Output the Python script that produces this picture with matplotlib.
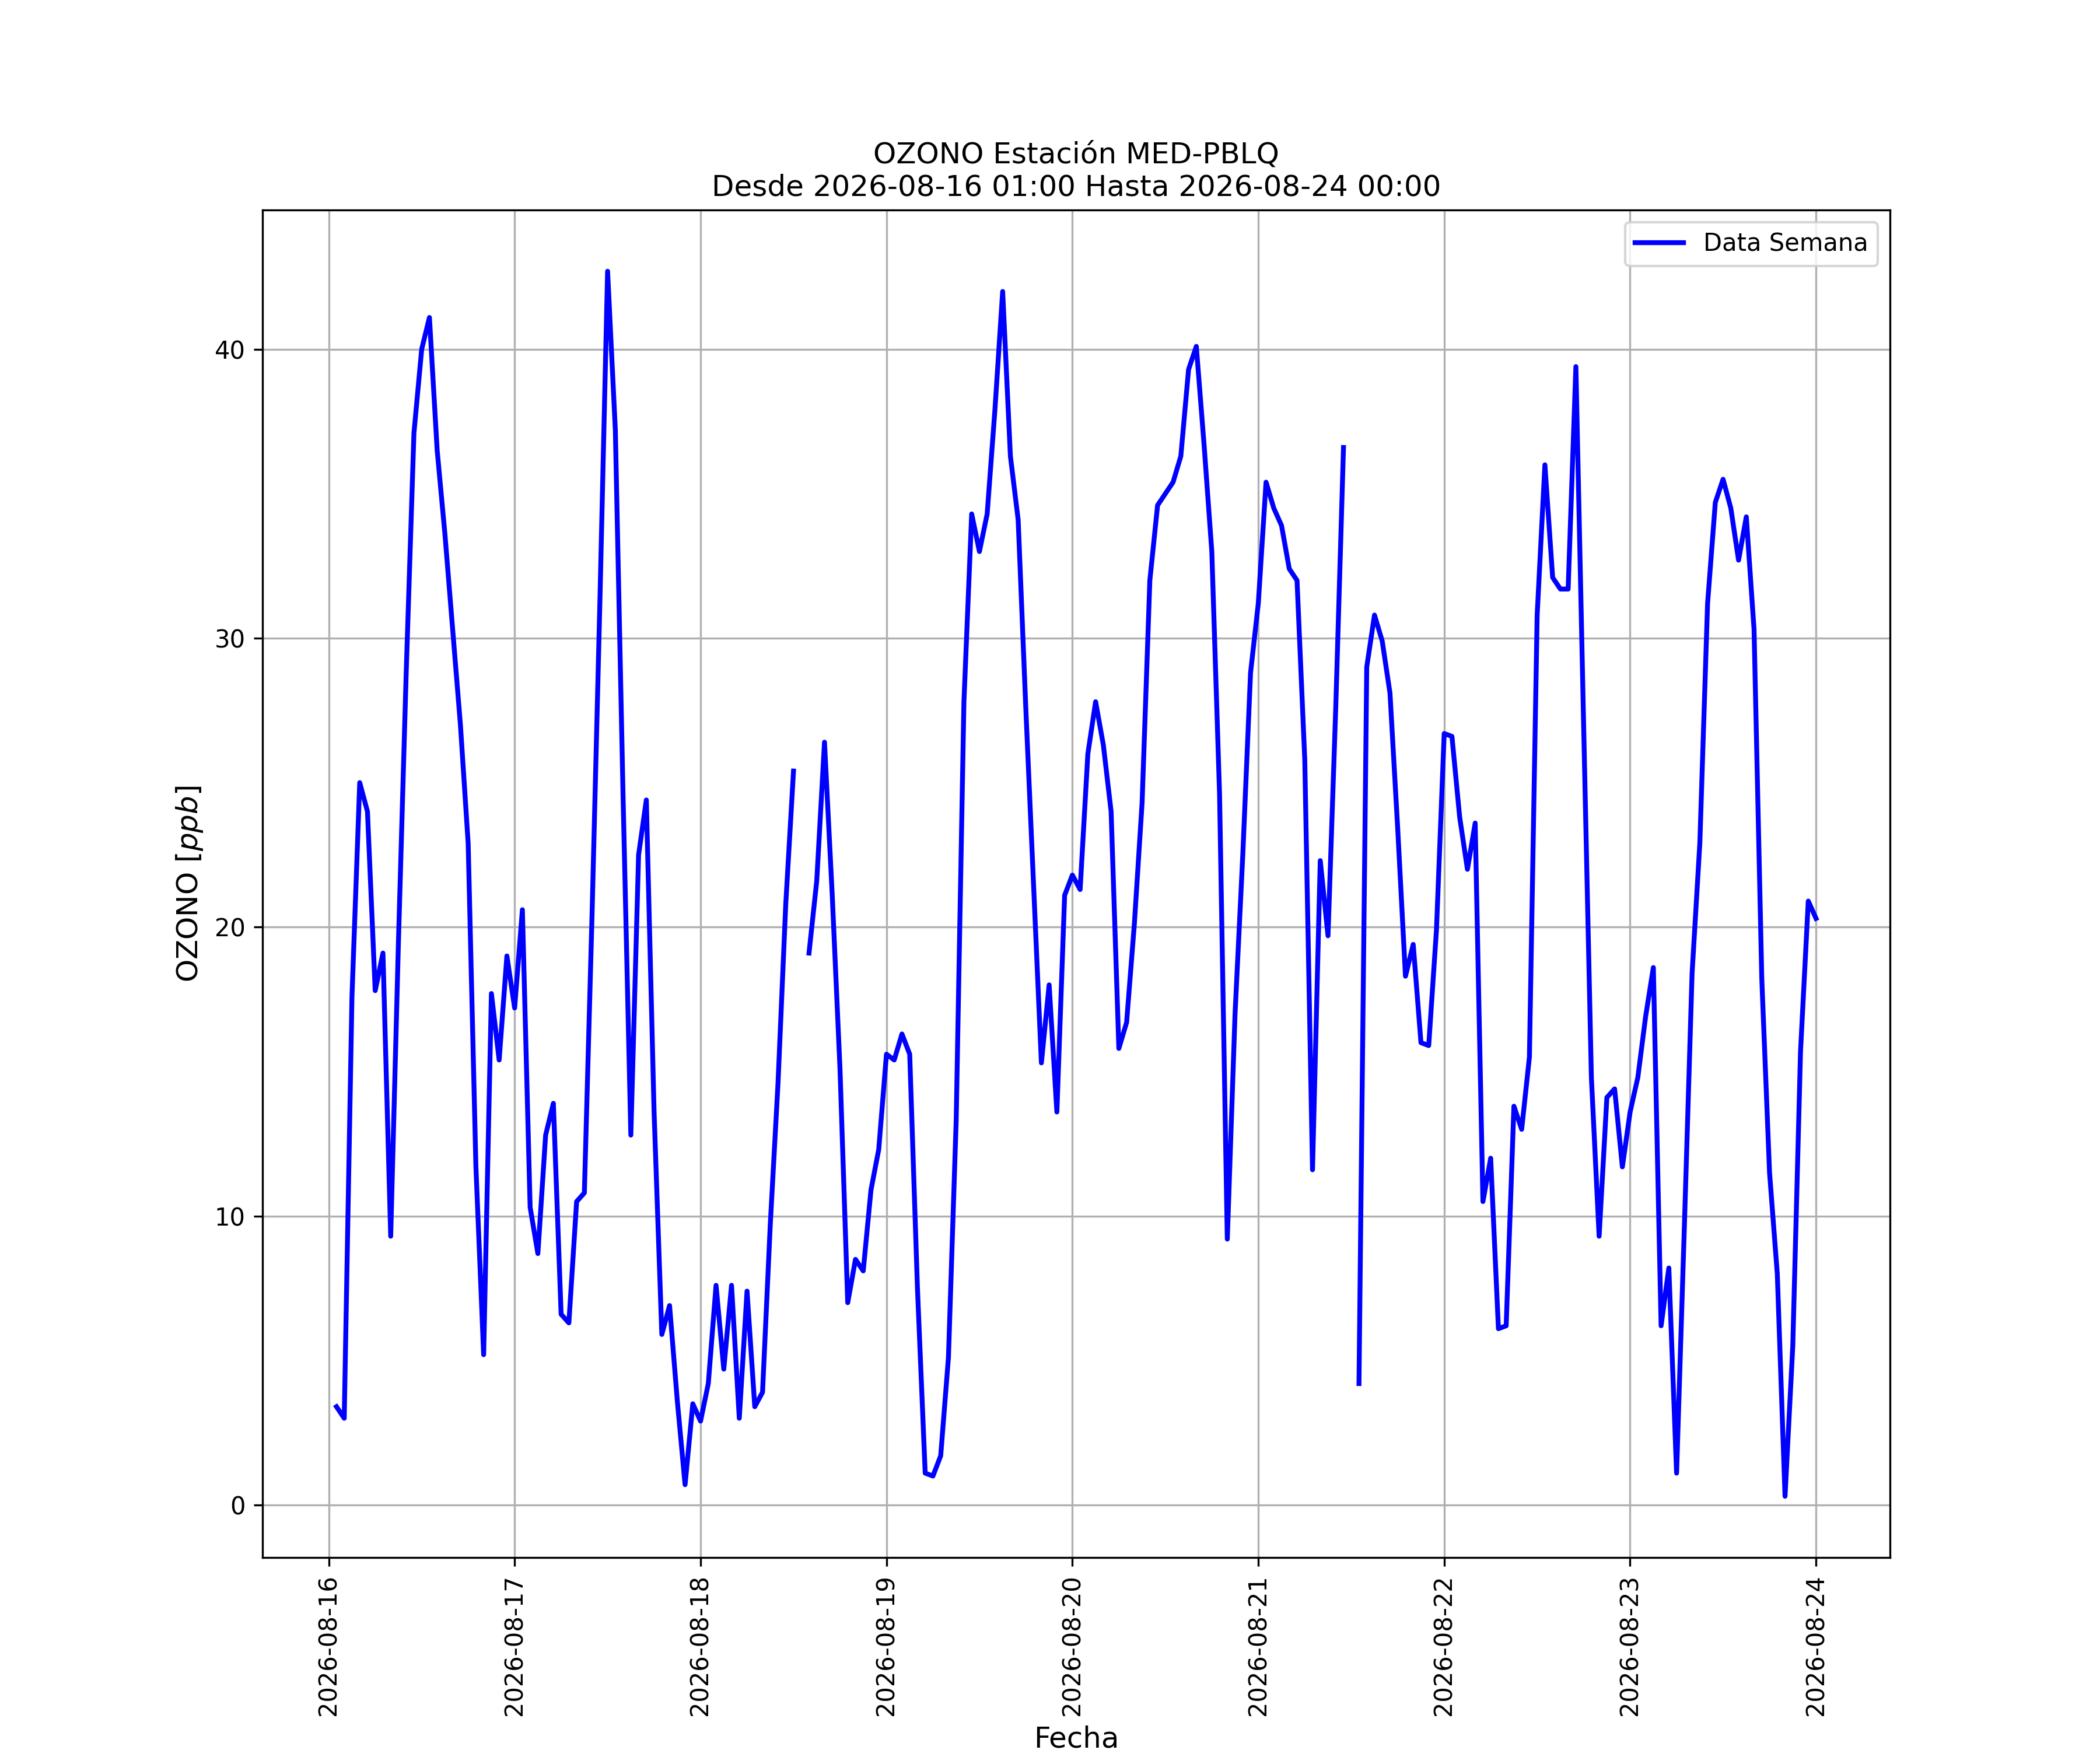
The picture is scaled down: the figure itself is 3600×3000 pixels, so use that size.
import numpy as np
import pandas as pd
import matplotlib
matplotlib.use("Agg")
import matplotlib.pyplot as plt
import matplotlib.dates as mdates

estacion = "MED-PBLQ"
inicio = "2026-08-16 01:00"
fin = "2026-08-24 00:00"

# hourly ozone [ppb], NaN where the station had no data
ozono = [
    3.4, 3.0, 17.6, 25.0, 24.0, 17.8, 19.1, 9.3, 19.5, 28.8, 37.1, 40.0,
    41.1, 36.5, 33.6, 30.3, 27.0, 22.9, 11.7, 5.2, 17.7, 15.4, 19.0, 17.2,
    20.6, 10.3, 8.7, 12.8, 13.9, 6.6, 6.3, 10.5, 10.8, 20.5, 31.2, 42.7,
    37.2, 24.5, 12.8, 22.5, 24.4, 13.6, 5.9, 6.9, 3.6, 0.7, 3.5, 2.9,
    4.2, 7.6, 4.7, 7.6, 3.0, 7.4, 3.4, 3.9, 9.7, 14.6, 20.8, 25.4,
    np.nan, 19.1, 21.6, 26.4, 21.1, 15.1, 7.0, 8.5, 8.1, 10.9, 12.3, 15.6,
    15.4, 16.3, 15.6, 7.5, 1.1, 1.0, 1.7, 5.1, 13.3, 27.8, 34.3, 33.0,
    34.3, 37.9, 42.0, 36.3, 34.1, 27.5, 21.4, 15.3, 18.0, 13.6, 21.1, 21.8,
    21.3, 26.0, 27.8, 26.3, 24.0, 15.8, 16.7, 20.1, 24.3, 32.0, 34.6, 35.0,
    35.4, 36.3, 39.3, 40.1, 36.7, 33.0, 24.6, 9.2, 17.0, 22.5, 28.8, 31.2,
    35.4, 34.5, 33.9, 32.4, 32.0, 25.8, 11.6, 22.3, 19.7, 27.6, 36.6, np.nan,
    4.2, 29.0, 30.8, 29.9, 28.1, 23.4, 18.3, 19.4, 16.0, 15.9, 19.9, 26.7,
    26.6, 23.8, 22.0, 23.6, 10.5, 12.0, 6.1, 6.2, 13.8, 13.0, 15.5, 30.8,
    36.0, 32.1, 31.7, 31.7, 39.4, 27.0, 14.8, 9.3, 14.1, 14.4, 11.7, 13.6,
    14.8, 16.9, 18.6, 6.2, 8.2, 1.1, 9.6, 18.4, 22.9, 31.2, 34.7, 35.5,
    34.5, 32.7, 34.2, 30.3, 18.2, 11.5, 8.0, 0.3, 5.5, 15.7, 20.9, 20.3,
]

fechas = pd.date_range(inicio, fin, freq="h")

fig = plt.figure(figsize=(12, 10))
ax = fig.add_subplot(111)

ax.plot(fechas, ozono, color="blue", lw=2, label="Data Semana")

ax.xaxis.set_major_locator(mdates.DayLocator())
ax.xaxis.set_major_formatter(mdates.DateFormatter("%Y-%m-%d"))
plt.setp(ax.get_xticklabels(), rotation=90)

ax.set_title(f"OZONO Estación {estacion}\nDesde {inicio} Hasta {fin}", fontsize=12)
ax.set_xlabel("Fecha", fontsize=12)
ax.set_ylabel(r"OZONO $[ppb]$", fontsize=12)
ax.grid(True)
ax.legend(loc="upper right")

fig.savefig("out.png", dpi=300)
